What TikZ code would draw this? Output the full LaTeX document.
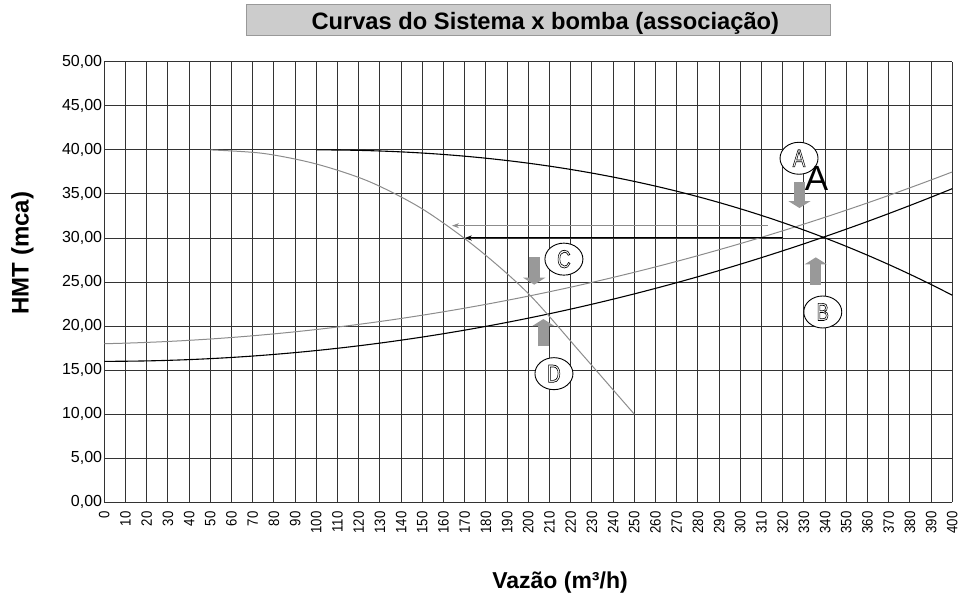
\documentclass[tikz,border=0pt]{standalone}
\usepackage{fontspec}
\setmainfont{Liberation Sans}
\usepackage{graphicx}
\usepackage{xcolor}
\usetikzlibrary{shapes.geometric,arrows.meta}
\newcommand\outlined[1]{\special{pdf:literal direct 1 Tr 0.7 w}\scalebox{0.75}[1]{#1}\special{pdf:literal direct 0 Tr}}
\newcommand\narrow[1]{\scalebox{0.88}[1]{#1}}
\tikzset{
    grid-line/.style = {draw=black!80, line width=0.9pt},
    curve-black/.style = {draw=black, line width=1.1pt},
    curve-gray/.style = {draw=black!45, line width=1pt},
    x-tick/.style = {rotate=90, anchor=east, inner sep=0pt, font=\fontsize{15}{17}\selectfont},
    y-tick/.style = {anchor=east, inner sep=0pt, font=\fontsize{16}{18}\selectfont},
    axis-title/.style = {font=\bfseries, inner sep=0pt},
    title-box/.style = {draw=black!40, fill=black!20, line width=1pt, minimum width=584pt, minimum height=31pt},
    level-arrow/.style = {line width=1pt, -{Stealth[length=7pt, width=5pt]}},
    block-arrow/.style = {draw=black!40, line width=11pt, -{Triangle[width=22pt, length=7pt]}},
    tag/.style = {ellipse, draw, fill=white, line width=0.9pt, minimum width=38pt, minimum height=32pt, inner sep=0pt, font=\fontsize{25}{25}\selectfont},
}
\begin{document}
\begin{tikzpicture}[x=2.12pt, y=8.81pt]
\useasboundingbox (-104.3pt,-90.7pt) rectangle (854.7pt,502.3pt);

% title
\node[title-box] (title-box) at (433.7pt,482.5pt) {};
\node[anchor=base, inner sep=0pt, font=\fontsize{23.7}{26}\selectfont\bfseries] (title) at (441pt,472.3pt) {Curvas do Sistema x bomba (associação)};

% grid
\foreach \x in {0,10,...,400}
    \draw[grid-line] (\x,0) -- (\x,50);
\foreach \y in {0,5,...,50}
    \draw[grid-line] (0,\y) -- (400,\y);
\foreach \x in {0,10,...,400}
    \node[x-tick] at ([yshift=-9pt]\x,0) {\narrow{\x}};
\foreach \y in {0,5,...,50}
    \node[y-tick] at ([xshift=-2pt]0,\y) {\y,00};

\node[axis-title, font=\fontsize{24}{26}\selectfont\bfseries, rotate=90] (hmt) at (-81.8pt,249.3pt) {HMT (mca)};
\node[axis-title, font=\fontsize{23}{25}\selectfont\bfseries, anchor=base] (vazao) at (455.7pt,-85.9pt) {Vazão (m³/h)};

% curves
\draw[curve-gray] plot[domain=0:400, samples=60, smooth] (\x, {18+2.1*(\x/400)+17.4*(\x/400)^2});
\draw[curve-black] plot[domain=0:400, samples=60, smooth] (\x, {16+19.6*(\x/400)^2});
\draw[curve-gray] plot[smooth] coordinates {(50,40) (75,39.6) (100,38.4) (125,36.4) (150,33.3) (175,29.0) (200,23.7) (225,16.9) (250,10)};
\draw[curve-black] plot[domain=100:400, samples=60, smooth] (\x, {40-12.125*((\x-100)/300)^2-4.375*((\x-100)/300)^3});

% operating points
\coordinate (gray-start) at (313,31.4);
\coordinate (gray-end) at (164,31.4);
\coordinate (black-start) at (320,30);
\coordinate (black-end) at (170,30);
\draw[level-arrow, black!45] (gray-start) -- (gray-end);
\draw[level-arrow, black] (black-start) -- (black-end);

\coordinate (a-top) at (327.9,36.4);
\coordinate (a-tip) at (327.9,33.4);
\coordinate (b-top) at (335.6,24.7);
\coordinate (b-tip) at (335.6,27.8);
\coordinate (c-top) at (202.8,27.8);
\coordinate (c-tip) at (202.8,24.7);
\coordinate (d-top) at (207.1,17.7);
\coordinate (d-tip) at (207.1,20.8);
\draw[block-arrow] (a-top) -- (a-tip);
\draw[block-arrow] (b-top) -- (b-tip);
\draw[block-arrow] (c-top) -- (c-tip);
\draw[block-arrow] (d-top) -- (d-tip);

\node[tag] (tag-a) at (327.7,39.05) {\outlined{A}};
\node[tag] (tag-b) at (338.9,21.6) {\outlined{B}};
\node[tag] (tag-c) at (216.8,27.6) {\outlined{C}};
\node[tag] (tag-d) at (212.1,14.6) {\outlined{D}};
\node[inner sep=0pt, font=\fontsize{35}{35}\selectfont] (big-a) at (336,36.8) {A};
\end{tikzpicture}
\end{document}
